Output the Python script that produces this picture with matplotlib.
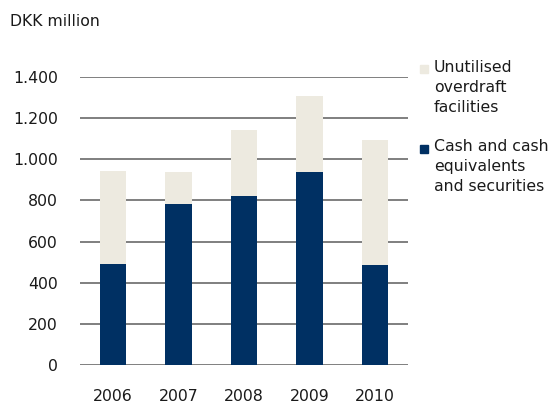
import matplotlib.pyplot as plt
from matplotlib.patches import Rectangle

years = ['2006', '2007', '2008', '2009', '2010']
cash = [491, 781, 823, 938, 485]
total = [943, 938, 1142, 1308, 1094]
unutilised = [t - c for t, c in zip(total, cash)]
yticks = [0, 200, 400, 600, 800, 1000, 1200, 1400]
ytick_labels = ['0', '200', '400', '600', '800', '1.000', '1.200', '1.400']

navy = '#003063'
beige = '#edeae0'

plt.rcParams['font.family'] = 'DejaVu Sans'
fig = plt.figure(figsize=(5.49, 4.03), dpi=100)
ax = fig.add_axes([80/549, 1 - 365/403, 328/549, 288/403])

x = range(len(years))
ax.bar(x, cash, width=0.4, color=navy, zorder=2)
ax.bar(x, unutilised, bottom=cash, width=0.4, color=beige, zorder=2)

ax.set_xlim(-0.5, 4.5)
ax.set_ylim(0, 1400)
ax.set_yticks(yticks)
ax.set_yticklabels(ytick_labels)
ax.set_xticks(list(x))
ax.set_xticklabels(years)
ax.yaxis.grid(True, color='#6a6a6a', linewidth=1.2, zorder=1)
ax.set_axisbelow(True)
for s in ax.spines.values():
    s.set_visible(False)
ax.tick_params(axis='both', length=0, labelsize=11.3, colors='#1a1a1a')
ax.tick_params(axis='y', pad=16)
ax.tick_params(axis='x', pad=17)

fig.text(10/549, 1 - 22/403, 'DKK million', fontsize=11.3, va='center', color='#1a1a1a')

# legend drawn by hand
fig.patches.append(Rectangle((420/549, 1 - 73/403), 8/549, 8/403,
                             transform=fig.transFigure, color=beige))
fig.patches.append(Rectangle((420/549, 1 - 153/403), 8/549, 8/403,
                             transform=fig.transFigure, color=navy))
fig.text(434/549, 1 - 60/403, 'Unutilised\noverdraft\nfacilities', fontsize=11.3,
         va='top', linespacing=1.4, color='#1a1a1a')
fig.text(434/549, 1 - 139/403, 'Cash and cash\nequivalents\nand securities', fontsize=11.3,
         va='top', linespacing=1.4, color='#1a1a1a')

fig.savefig('out.png', dpi=100)
